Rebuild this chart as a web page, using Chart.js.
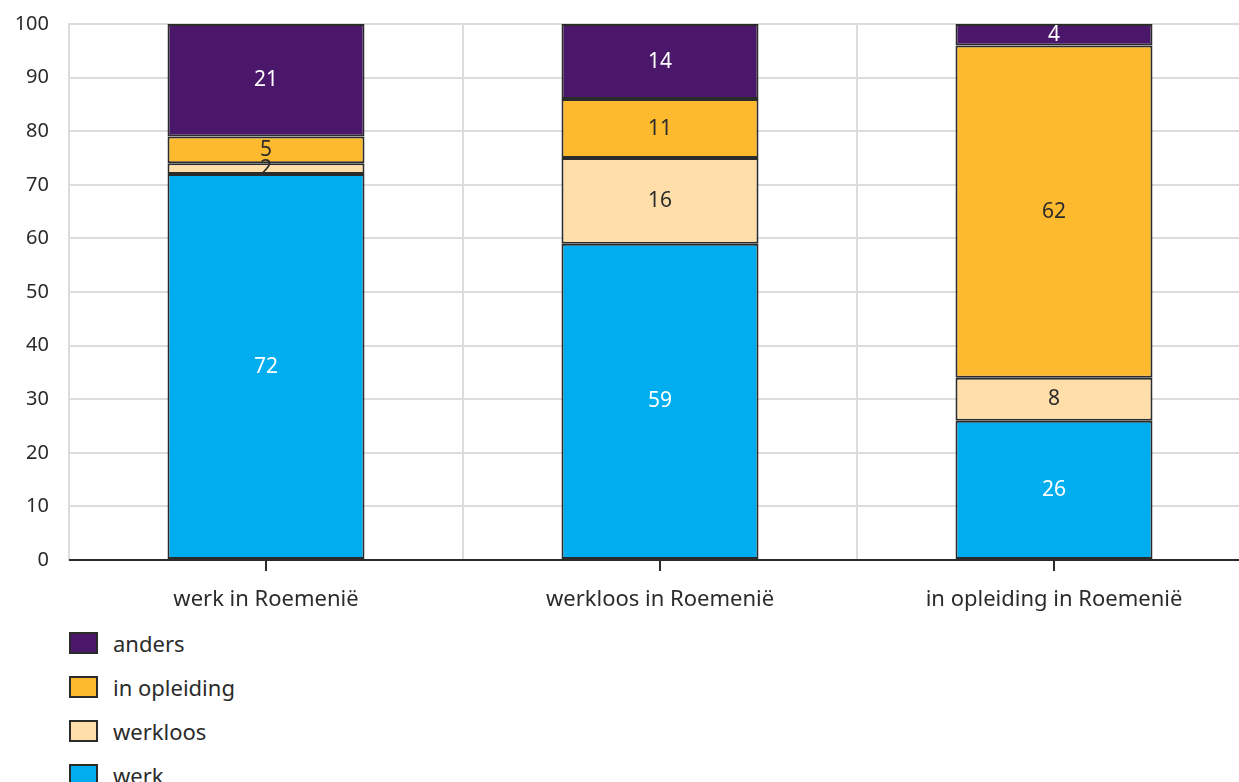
<!DOCTYPE html>
<html>
<head>
    <title>Roemenië chart</title>
    <script src="https://cdn.jsdelivr.net/npm/chart.js"></script>
    <style>
        html, body {
            margin: 0;
            padding: 0;
            background: #fff;
            overflow: hidden;
            font-family: "Noto Sans", sans-serif;
        }
        #wrap {
            position: relative;
            width: 1251px;
            height: 628px;
            margin-top: -8px;
        }
        #legend {
            list-style: none;
            margin: 0;
            padding: 0;
            position: absolute;
            left: 69px;
            top: 621px;
        }
        #legend li {
            height: 44px;
            display: flex;
            align-items: center;
            font-size: 22px;
            color: #2b2b2b;
        }
        #legend span.box {
            display: inline-block;
            width: 25px;
            height: 18px;
            border: 2px solid #2b2b2b;
            margin-right: 15px;
        }
    </style>
</head>
<body>
<div id="wrap">
    <canvas id="barChart"></canvas>
</div>
<ul id="legend"></ul>

<script>
    // data
    const categories = ['werk in Roemenië', 'werkloos in Roemenië', 'in opleiding in Roemenië'];
    const werk = [72, 59, 26];
    const werkloos = [2, 16, 8];
    const inOpleiding = [5, 11, 62];
    const anders = [21, 14, 4];
    const yTicks = [0, 10, 20, 30, 40, 50, 60, 70, 80, 90, 100];

    const textDark = '#2b2b2b';

    const myDatasets = [
        {label: 'werk', data: werk, backgroundColor: '#00aeef', labelColor: '#ffffff'},
        {label: 'werkloos', data: werkloos, backgroundColor: '#ffdeaa', labelColor: textDark},
        {label: 'in opleiding', data: inOpleiding, backgroundColor: '#fdba2f', labelColor: textDark},
        {label: 'anders', data: anders, backgroundColor: '#4a176a', labelColor: '#ffffff'}
    ];
    myDatasets.forEach(function (ds) {
        ds.borderColor = textDark;
        ds.borderWidth = 2;
        ds.borderSkipped = false;
        ds.barPercentage = 1;
        ds.categoryPercentage = 0.5;
    });

    // values in the middle of every segment
    const segmentLabels = {
        id: 'segmentLabels',
        afterDatasetsDraw(chart) {
            const c = chart.ctx;
            c.save();
            c.font = '21px "Noto Sans"';
            c.textAlign = 'center';
            c.textBaseline = 'middle';
            chart.data.datasets.forEach(function (ds, i) {
                chart.getDatasetMeta(i).data.forEach(function (bar, j) {
                    c.fillStyle = ds.labelColor;
                    c.fillText(ds.data[j], bar.x, (bar.y + bar.base) / 2);
                });
            });
            c.restore();
        }
    };

    // small dark tick marks under the category centres
    const centreTicks = {
        id: 'centreTicks',
        afterDraw(chart) {
            const c = chart.ctx;
            const xs = chart.scales.x;
            const bottom = chart.chartArea.bottom;
            c.save();
            c.strokeStyle = textDark;
            c.lineWidth = 2;
            categories.forEach(function (_, i) {
                const x = Math.round(xs.getPixelForValue(i));
                c.beginPath();
                c.moveTo(x, bottom);
                c.lineTo(x, bottom + 11);
                c.stroke();
            });
            c.beginPath();
            c.moveTo(chart.chartArea.left, bottom);
            c.lineTo(chart.chartArea.right, bottom);
            c.stroke();
            c.restore();
        }
    };

    let ctx = document.getElementById('barChart').getContext('2d');
    let chart = new Chart(ctx, {
        type: 'bar',
        data: {
            labels: categories,
            datasets: myDatasets
        },
        options: {
            responsive: true,
            maintainAspectRatio: false,
            animation: false,
            layout: {
                padding: {top: 16, right: 0, bottom: 0, left: 0}
            },
            plugins: {
                legend: {display: false},
                tooltip: {enabled: false}
            },
            scales: {
                x: {
                    stacked: true,
                    grid: {
                        color: '#dcdcdc',
                        lineWidth: 2,
                        drawTicks: false
                    },
                    border: {display: false},
                    ticks: {
                        color: textDark,
                        font: {family: 'Noto Sans', size: 22},
                        padding: 27
                    },
                    afterFit: function (scale) {
                        scale.height = 60;
                    }
                },
                y: {
                    stacked: true,
                    min: 0,
                    max: 100,
                    afterBuildTicks: function (scale) {
                        scale.ticks = yTicks.map(v => ({value: v}));
                    },
                    grid: {
                        color: '#dcdcdc',
                        lineWidth: 2,
                        drawTicks: false
                    },
                    border: {display: true, color: '#dcdcdc', width: 2},
                    ticks: {
                        color: textDark,
                        font: {family: 'Noto Sans', size: 20},
                        padding: 20
                    },
                    afterFit: function (scale) {
                        scale.width = 69;
                    }
                }
            }
        },
        plugins: [segmentLabels, centreTicks]
    });

    // legend as a vertical list, top item = last dataset
    const legendEl = document.getElementById('legend');
    myDatasets.slice().reverse().forEach(function (ds) {
        const li = document.createElement('li');
        const box = document.createElement('span');
        box.className = 'box';
        box.style.background = ds.backgroundColor;
        li.appendChild(box);
        li.appendChild(document.createTextNode(ds.label));
        legendEl.appendChild(li);
    });
</script>
</body>
</html>
